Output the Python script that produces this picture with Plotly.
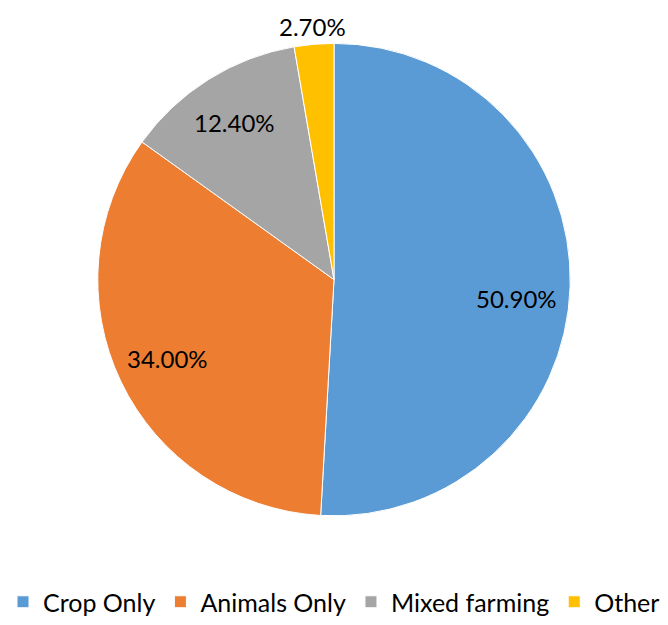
import math
import plotly.graph_objects as go

categories = ["Crop Only", "Animals Only", "Mixed farming", "Other"]
values = [50.9, 34.0, 12.4, 2.7]
labels_text = ["50.90%", "34.00%", "12.40%", "2.70%"]
colors = ["#5B9BD5", "#ED7D31", "#A5A5A5", "#FFC000"]

W, H = 668, 625
dom_x = [0.145, 0.855]
dom_y = [0.168, 0.930]
label_radius = [0.77, 0.78, 0.79, 1.08]  # fraction of pie radius
label_yshift = [-14, 0, 0, 0]            # pixel nudges (Excel best-fit look)

fig = go.Figure(go.Pie(
    labels=categories,
    values=values,
    textinfo="none",
    sort=False,
    direction="clockwise",
    rotation=0,
    marker=dict(colors=colors, line=dict(color="white", width=1)),
    domain=dict(x=dom_x, y=dom_y),
    hoverinfo="label+percent",
))

cx = (dom_x[0] + dom_x[1]) / 2
cy = (dom_y[0] + dom_y[1]) / 2
R = min((dom_x[1] - dom_x[0]) * W, (dom_y[1] - dom_y[0]) * H) / 2
total = sum(values)
cum = 0.0
for v, t, f, ys in zip(values, labels_text, label_radius, label_yshift):
    mid = (cum + v / 2) / total * 2 * math.pi
    cum += v
    x = cx + f * R * math.sin(mid) / W
    y = cy + f * R * math.cos(mid) / H
    fig.add_annotation(x=x, y=y, xref="paper", yref="paper", text=t, showarrow=False,
                       xanchor="center", yanchor="middle", yshift=ys,
                       font=dict(family="Lato", size=24, color="black"))

fig.update_layout(
    width=W, height=H,
    margin=dict(l=0, r=0, t=0, b=0),
    paper_bgcolor="white",
    plot_bgcolor="white",
    showlegend=True,
    legend=dict(orientation="h", x=0.5, xanchor="center", y=0.029, yanchor="middle",
                font=dict(family="Lato", size=25, color="black")),
)

fig.write_html("out.html")
